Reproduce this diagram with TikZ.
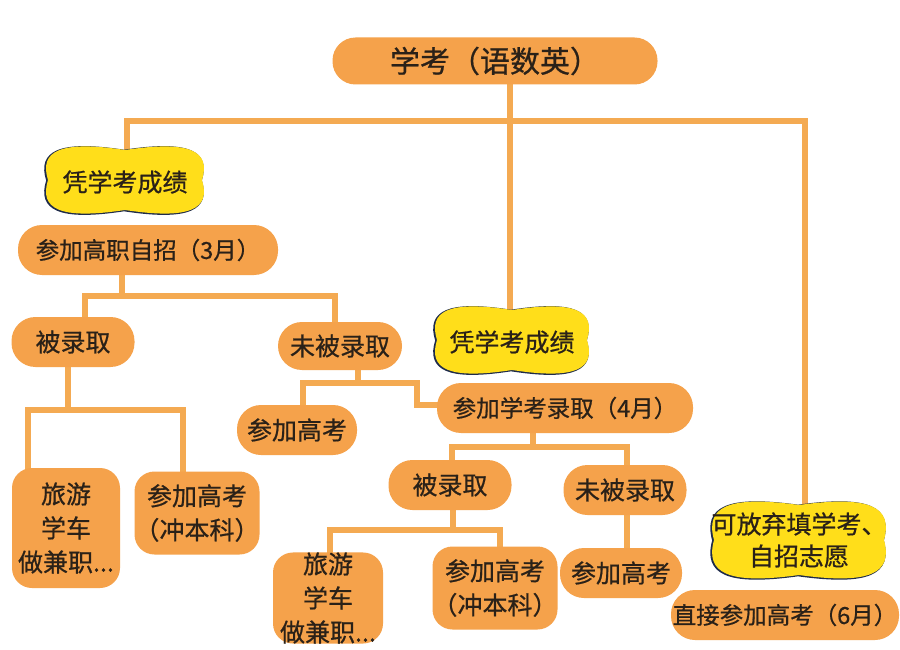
\documentclass[tikz,border=0pt]{standalone}
\usepackage{fontspec}
\newfontfamily\cjk[BoldFont={Noto Sans CJK SC},BoldFeatures={FakeBold=0.7}]{Noto Sans CJK SC}
\pgfdeclarelayer{paper}
\pgfdeclarelayer{bg}
\pgfsetlayers{paper,bg,main}
\definecolor{pillorange}{HTML}{F5A24B}
\definecolor{lineorange}{HTML}{F4AA52}
\definecolor{bubbleyellow}{HTML}{FFDE1A}
\definecolor{bubbleedge}{HTML}{1E2B4A}
\definecolor{ink}{HTML}{2A2118}
% wavy yellow bubble: [style] {cx}{cy}{half width}{half height}
\newcommand{\cloudshape}[5][]{%
  \path[#1] ({#2},{#3-#5+6}) .. controls ({#2+0.8*#4},{#3-#5-4}) and ({#2+#4+4},{#3-0.8*#5}) .. ({#2+#4-5},{#3})
    .. controls ({#2+#4+4},{#3+0.8*#5}) and ({#2+0.8*#4},{#3+#5+4}) .. ({#2},{#3+#5-6})
    .. controls ({#2-0.8*#4},{#3+#5+4}) and ({#2-#4-4},{#3+0.8*#5}) .. ({#2-#4+5},{#3})
    .. controls ({#2-#4-4},{#3-0.8*#5}) and ({#2-0.8*#4},{#3-#5-4}) .. cycle;}
\newcommand{\bubble}[4]{%
  \cloudshape[fill=bubbleedge,draw=bubbleedge,line width=1.6pt,shift={(-1,0.5)}]{#1}{#2}{#3}{#4}
  \cloudshape[fill=bubbleyellow]{#1}{#2}{#3}{#4}}
\begin{document}
\begin{tikzpicture}[x=1pt,y=-1pt,
    pill/.style={rectangle,rounded corners=24pt,fill=pillorange,text=ink,inner sep=0pt,
      minimum height=50pt,align=center,font=\cjk\bfseries\fontsize{25}{34}\selectfont},
    tallbox/.style={pill,rounded corners=20pt},
    monthfont/.style={font=\cjk\bfseries\fontsize{23.5}{30}\selectfont},
    cond/.style={text=ink,inner sep=0pt,align=center,font=\cjk\bfseries\fontsize{25}{32}\selectfont},
    link/.style={draw=lineorange,line width=6.5pt}]
    \useasboundingbox (0,0) rectangle (900,650);
    \begin{pgfonlayer}{paper}
        \fill[white] (0,0) rectangle (900,650);
    \end{pgfonlayer}
    % bubbles
    \bubble{125}{180}{82}{36}
    \bubble{512}{340}{80}{36}
    \bubble{799}{540}{90}{41}
    % nodes
    \node[pill,minimum width=325pt,minimum height=47pt,rounded corners=23pt,
      font=\cjk\bfseries\fontsize{30}{36}\selectfont] (top) at (495,61) {学考（语数英）};
    \node[cond] (cond1) at (125,182) {凭学考成绩};
    \node[pill,monthfont,minimum width=260pt] (hz1) at (148,250) {参加高职自招（3月）};
    \node[pill,minimum width=123pt] (adm1) at (73,342) {被录取};
    \node[pill,minimum width=124pt,minimum height=48pt] (rej1) at (340,346) {未被录取};
    \node[tallbox,minimum width=108pt,minimum height=120pt] (trip1) at (66,528) {旅游\\学车\\做兼职...};
    \node[tallbox,minimum width=115pt,minimum height=83pt] (gk1) at (197,513) {参加高考\\（冲本科）};
    \node[pill,minimum width=120pt] (gk2) at (297,430) {参加高考};
    \node[cond] (cond2) at (512,342) {凭学考成绩};
    \node[pill,monthfont,minimum width=256pt] (xk) at (565,408) {参加学考录取（4月）};
    \node[pill,minimum width=123pt] (adm2) at (450,485) {被录取};
    \node[pill,minimum width=123pt] (rej2) at (625,490) {未被录取};
    \node[tallbox,minimum width=110pt,minimum height=90pt] (trip2) at (328,598) {旅游\\学车\\做兼职...};
    \node[tallbox,minimum width=120pt,minimum height=83pt] (gk3) at (495,588) {参加高考\\（冲本科）};
    \node[pill,minimum width=122pt] (gk4) at (621,573) {参加高考};
    \node[cond] (cond3) at (799,540) {可放弃填学考、\\自招志愿};
    \node[pill,monthfont,minimum width=228pt] (direct) at (785,615) {直接参加高考（6月）};
    % connectors
    \coordinate (j0) at (510,121);
    \coordinate (j1) at (122,296);
    \coordinate (j2) at (68,410);
    \coordinate (j3) at (358,383);
    \coordinate (j4) at (533,447);
    \coordinate (j5) at (453,530);
    \begin{pgfonlayer}{bg}
        \draw[link] (top.center -| j0) -- (cond2.north -| j0);
        \draw[link] ([xshift=2pt]cond1.north) |- (j0) -| ([xshift=6pt]cond3.north);
        \draw[link] ([xshift=-26pt]hz1.center) -- (j1);
        \draw[link] ([xshift=12pt]adm1.center) |- (j1) -| ([xshift=-5pt]rej1.center);
        \draw[link] ([xshift=-5pt]adm1.center) -- (j2);
        \draw[link] ([xshift=-38pt]trip1.center) |- (j2) -| ([xshift=-14pt]gk1.center);
        \draw[link] ([xshift=18pt]rej1.center) -- (j3);
        \draw[link] ([xshift=6pt]gk2.center) |- (j3) -| ([xshift=-20pt,yshift=3pt]xk.west) -- ([yshift=3pt]xk.center);
        \draw[link] ([xshift=-32pt]xk.center) -- (j4);
        \draw[link] ([xshift=2pt]adm2.center) |- (j4) -| ([xshift=2pt]rej2.center);
        \draw[link] ([xshift=3pt]adm2.center) -- (j5);
        \draw[link] ([xshift=2pt]trip2.center) |- (j5) -| ([xshift=5pt]gk3.center);
        \draw[link] ([xshift=2pt]rej2.center) -- ([xshift=2pt]rej2.center |- gk4.center);
    \end{pgfonlayer}
\end{tikzpicture}
\end{document}
